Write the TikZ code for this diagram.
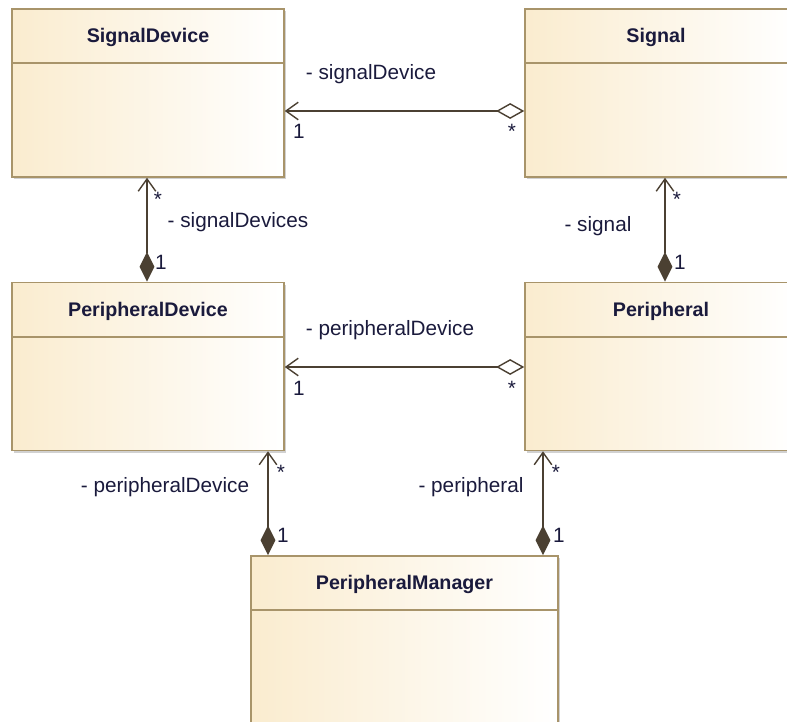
\documentclass[tikz,border=0pt]{standalone}
\usepackage{fontspec}
\setmainfont{Liberation Sans}
\usetikzlibrary{arrows.meta, calc, shadows}
\definecolor{umlfill}{HTML}{FAECCF}
\definecolor{umledge}{HTML}{A8946A}
\definecolor{umlline}{HTML}{4B4032}
\definecolor{umltext}{HTML}{1A1A3C}

\begin{document}
\begin{tikzpicture}[x=0.02cm, y=-0.02cm,
    cls/.style={draw=umledge, line width=0.9pt, left color=umlfill,
                right color=white, minimum width=5.44cm, minimum height=3.36cm,
                inner sep=0pt,
                general shadow={fill=black!18, shadow xshift=1.2pt, shadow yshift=-1.2pt}},
    ttl/.style={font=\bfseries\fontsize{11.2}{13}\selectfont, text=umltext},
    lbl/.style={font=\fontsize{11.8}{14}\selectfont, text=umltext, inner sep=1pt},
    sep/.style={draw=umledge, line width=0.9pt},
    aggr/.style={umlline, line width=0.8pt,
                 {Diamond[open, length=16pt, width=9pt]}-{Straight Barb[length=7pt, width=10pt]}},
    comp/.style={umlline, line width=0.8pt,
                 {Diamond[length=17pt, width=8.5pt]}-{Straight Barb[length=7pt, width=10pt]}}
  ]
    \useasboundingbox (0,0) rectangle (787,722);

    % Classes
    \node[cls] (sd) at (148, 93) {};
    \node[cls] (sig) at (661, 93) {};
    \node[cls] (pd) at (148, 366.5) {};
    \node[cls] (per) at (661, 366.5) {};
    \node[cls, minimum width=6.14cm] (pm) at (404.5, 640) {};

    \draw[sep] (sd.west |- 0,63) -- (sd.east |- 0,63);
    \draw[sep] (sig.west |- 0,63) -- (sig.east |- 0,63);
    \draw[sep] (pd.west |- 0,337) -- (pd.east |- 0,337);
    \draw[sep] (per.west |- 0,337) -- (per.east |- 0,337);
    \draw[sep] (pm.west |- 0,610) -- (pm.east |- 0,610);

    \node[ttl] (sdname) at (148, 37) {SignalDevice};
    \node[ttl] (signame) at (656, 37) {Signal};
    \node[ttl] (pdname) at (148, 311) {PeripheralDevice};
    \node[ttl] (pername) at (661, 311) {Peripheral};
    \node[ttl] (pmname) at (404.5, 584) {PeripheralManager};

    % Associations
    \draw[aggr] (sig.west |- 0,111) -- (sd.east |- 0,111);
    \draw[aggr] (per.west |- 0,367) -- (pd.east |- 0,367);
    \draw[comp] (pd.north -| 147,0) -- (sd.south -| 147,0);
    \draw[comp] (per.north -| 665,0) -- (sig.south -| 665,0);
    \draw[comp] (pm.north -| 268,0) -- (pd.south -| 268,0);
    \draw[comp] (pm.north -| 543,0) -- (per.south -| 543,0);

    % Role names and multiplicities
    \node[lbl] (r1) at (371, 74) {- signalDevice};
    \node[lbl] (m1a) at (299, 131) {1};
    \node[lbl] (m1b) at (512, 131) {*};
    \node[lbl] (r2) at (238, 222) {- signalDevices};
    \node[lbl] (m2a) at (158, 199) {*};
    \node[lbl] (m2b) at (161, 262) {1};
    \node[lbl] (r3) at (598, 226) {- signal};
    \node[lbl] (m3a) at (677, 199) {*};
    \node[lbl] (m3b) at (680, 262) {1};
    \node[lbl] (r4) at (390, 330) {- peripheralDevice};
    \node[lbl] (m4a) at (299, 388) {1};
    \node[lbl] (m4b) at (512, 388) {*};
    \node[lbl] (r5) at (165, 487) {- peripheralDevice};
    \node[lbl] (m5a) at (281, 472) {*};
    \node[lbl] (m5b) at (283, 535) {1};
    \node[lbl] (r6) at (471, 487) {- peripheral};
    \node[lbl] (m6a) at (556, 472) {*};
    \node[lbl] (m6b) at (559, 535) {1};
  \end{tikzpicture}
\end{document}
